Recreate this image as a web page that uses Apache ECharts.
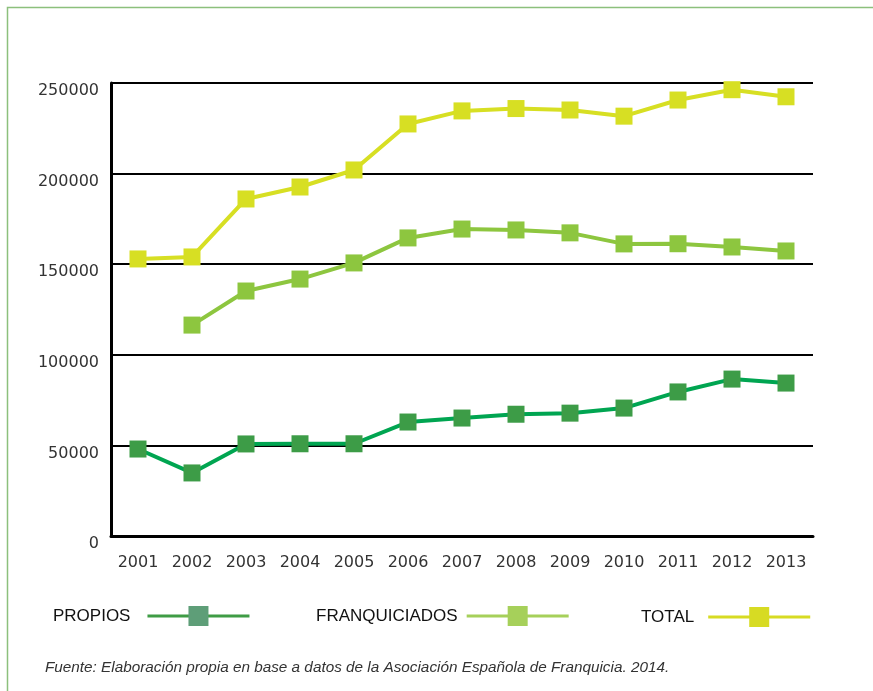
<!DOCTYPE html>
<html>
<head>
<meta charset="utf-8">
<script src="https://cdn.jsdelivr.net/npm/echarts@6/dist/echarts.min.js"></script>
<style>
html, body { margin: 0; padding: 0; background: #fff; }
#myChart { width: 873px; height: 691px; }
</style>
</head>
<body>
<div id="myChart"></div>
<script>
// datos
let years = ['2001', '2002', '2003', '2004', '2005', '2006', '2007', '2008', '2009', '2010', '2011', '2012', '2013']
let propios = [48000, 34800, 50800, 50900, 50900, 62900, 65100, 67200, 67800, 70600, 79500, 86600, 84400]
let franquiciados = [null, 116400, 135200, 141800, 150700, 164500, 169400, 168900, 167300, 161200, 161300, 159500, 157300]
let total = [152900, 154000, 186000, 192600, 202000, 227400, 234600, 235900, 235100, 231700, 240600, 246300, 242400]
let yTicks = [0, 50000, 100000, 150000, 200000, 250000]

let myChart = echarts.init(document.getElementById('myChart'))

let labelFont = "'DejaVu Sans', sans-serif"
let legendText = {
    fontFamily: "'Liberation Sans', Arial, sans-serif",
    fontSize: 17,
    color: '#111'
}

function makeLegend(name, left, top, gap, lineColor, markColor) {
    return {
        data: [{
            name: name,
            itemStyle: { color: markColor },
            lineStyle: { color: lineColor, width: 3 }
        }],
        left: left,
        top: top,
        align: 'right',
        itemWidth: 102,
        itemHeight: 25,
        textStyle: Object.assign({ padding: [0, gap, 0, 0] }, legendText)
    }
}

let option = {
    animation: false,
    graphic: [{
        type: 'rect',
        shape: { x: 7.5, y: 7.5, width: 900, height: 900 },
        style: { fill: 'none', stroke: '#8cc07c', lineWidth: 1.5 },
        silent: true
    }],
    title: {
        text: 'Fuente: Elaboración propia en base a datos de la Asociación Española de Franquicia. 2014.',
        left: 40,
        top: 655,
        textStyle: {
            fontFamily: "'Liberation Sans', Arial, sans-serif",
            fontStyle: 'italic',
            fontWeight: 'normal',
            fontSize: 15.3,
            color: '#333'
        }
    },
    legend: [
        makeLegend('PROPIOS', 48, 601, 12, '#3f9c45', '#5e9e78'),
        makeLegend('FRANQUICIADOS', 311, 601, 4, '#a6d05a', '#a6d05a'),
        makeLegend('TOTAL', 636, 602, 9, '#d7db23', '#d7db23')
    ],
    grid: {
        left: 111,
        right: 60,
        top: 83,
        bottom: 155
    },
    xAxis: {
        type: 'category',
        data: years,
        boundaryGap: true,
        axisLine: { lineStyle: { color: '#000', width: 3 } },
        axisTick: { show: false },
        axisLabel: {
            color: '#333',
            fontFamily: labelFont,
            fontSize: 16,
            margin: 19
        }
    },
    yAxis: {
        type: 'value',
        min: 0,
        max: 250000,
        interval: 50000,
        axisLine: { show: true, lineStyle: { color: '#000', width: 3 } },
        axisTick: { show: false },
        splitLine: { lineStyle: { color: '#000', width: 2 } },
        axisLabel: {
            color: '#333',
            fontFamily: labelFont,
            fontSize: 16,
            margin: 12,
            verticalAlign: 'top',
            formatter: function (v) { return yTicks.indexOf(v) >= 0 ? String(v) : '' }
        }
    },
    series: [
        {
            name: 'PROPIOS',
            type: 'line',
            data: propios,
            symbol: 'rect',
            symbolSize: 17,
            lineStyle: { color: '#00a551', width: 4 },
            itemStyle: { color: '#3d9c47' }
        },
        {
            name: 'FRANQUICIADOS',
            type: 'line',
            data: franquiciados,
            symbol: 'rect',
            symbolSize: 17,
            lineStyle: { color: '#8dc63f', width: 4 },
            itemStyle: { color: '#8dc63f' }
        },
        {
            name: 'TOTAL',
            type: 'line',
            data: total,
            symbol: 'rect',
            symbolSize: 17,
            lineStyle: { color: '#d7df23', width: 4 },
            itemStyle: { color: '#d7df23' }
        }
    ]
}
myChart.setOption(option)
</script>
</body>
</html>
